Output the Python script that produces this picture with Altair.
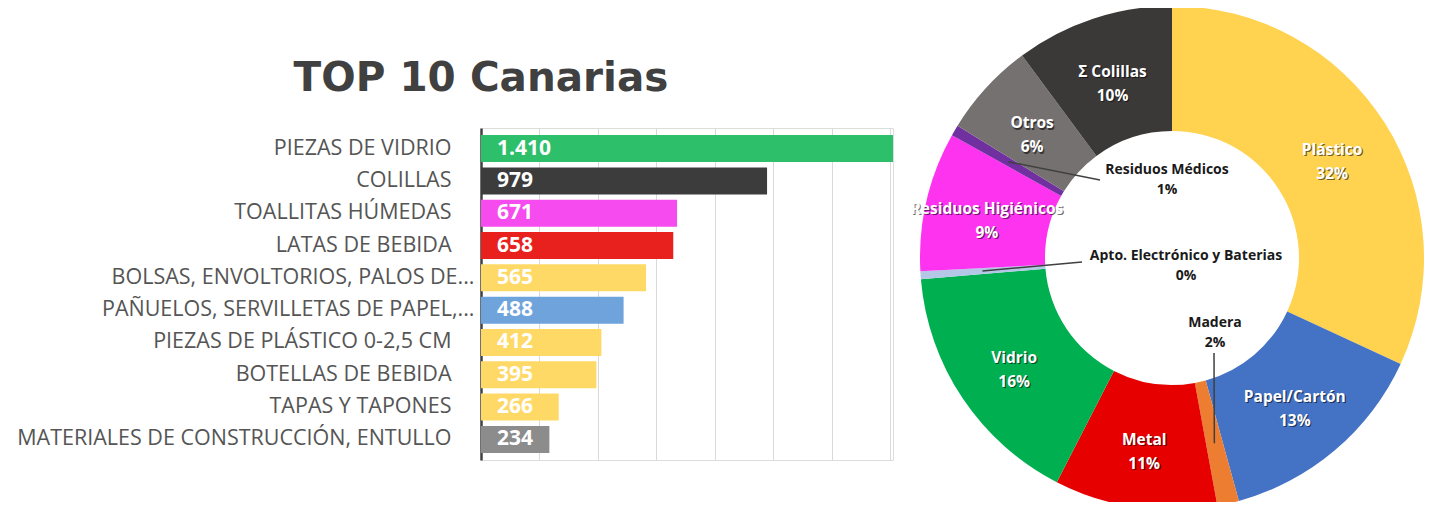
import math
import altair as alt
import pandas as pd

# ---------------- data ----------------
categories = [
    "PIEZAS DE VIDRIO", "COLILLAS", "TOALLITAS HÚMEDAS", "LATAS DE BEBIDA",
    "BOLSAS, ENVOLTORIOS, PALOS DE...", "PAÑUELOS, SERVILLETAS DE PAPEL,...",
    "PIEZAS DE PLÁSTICO 0-2,5 CM", "BOTELLAS DE BEBIDA", "TAPAS Y TAPONES",
    "MATERIALES DE CONSTRUCCIÓN, ENTULLO",
]
counts = [1410, 979, 671, 658, 565, 488, 412, 395, 266, 234]
bar_colors = ["#2EBF6B", "#3C3C3C", "#F54BEF", "#E8211E", "#FFD966",
              "#6FA3DC", "#FFD966", "#FFD966", "#FFD966", "#8C8C8C"]

materials = ["Plástico", "Papel/Cartón", "Madera", "Metal", "Vidrio",
             "Apto. Electrónico y Baterias", "Residuos Higiénicos",
             "Residuos Médicos", "Otros", "Σ Colillas"]
shares = [32.1, 13.9, 1.4, 10.5, 16.2, 0.5, 9.0, 0.7, 6.1, 10.2]
pct_labels = ["32%", "13%", "2%", "11%", "16%", "0%", "9%", "1%", "6%", "10%"]
donut_colors = ["#FFD24F", "#4472C4", "#ED7D31", "#E60000", "#00B050",
                "#B4C7E7", "#FD33F0", "#7030A0", "#767171", "#3B3838"]
callouts = ["Madera", "Apto. Electrónico y Baterias", "Residuos Médicos"]

title_text = "TOP 10 Canarias"

# ---------------- layout constants ----------------
PLOT_W, PLOT_H = 412, 332
CX, CY = 691, 130          # donut centre relative to bar plot origin
R_OUT, R_IN, R_LAB = 252, 127, 190
FONT = "Open Sans"
# annotation placement (offsets from donut centre; y = first text line)
callout_text_off = {"Residuos Médicos": (-5, -88),
                    "Apto. Electrónico y Baterias": (14, -2),
                    "Madera": (43, 65)}
callout_line_end = {"Residuos Médicos": (-72, -78),
                    "Apto. Electrónico y Baterias": (-90, 4),
                    "Madera": (42, 95)}

# ---------------- tables ----------------
bars_df = pd.DataFrame({"cat": categories, "n": counts, "color": bar_colors})
donut_df = pd.DataFrame({
    "idx": list(range(len(materials))),
    "mat": materials, "share": shares, "color": donut_colors,
    "inlabel": [("" if m in callouts else f"{m}\n{p}") for m, p in zip(materials, pct_labels)],
})

# ---------------- bar chart ----------------
ybase = alt.Y("cat:N", sort=categories,
              scale=alt.Scale(paddingInner=0.164, paddingOuter=0.22),
              axis=alt.Axis(title=None, labelFont=FONT, labelFontSize=21.5,
                            labelColor="#555555", ticks=False, domainColor="#404040",
                            domainWidth=2.5, labelLimit=700,
                            labelPadding={"condition": {"test": "indexof(datum.value, '...') >= 0", "value": 7}, "value": 30}))

bars = alt.Chart(bars_df).mark_bar().encode(
    x=alt.X("n:Q", scale=alt.Scale(domain=[0, 1410], nice=False),
            axis=alt.Axis(title=None, labels=False, ticks=False, domain=False,
                          grid=True, gridColor="#D9D9D9", gridWidth=1,
                          values=[200, 400, 600, 800, 1000, 1200, 1400])),
    y=ybase,
    color=alt.Color("color:N", scale=None),
)

bar_text = alt.Chart(bars_df).transform_calculate(
    lab="replace(format(datum.n, ','), ',', '.')"
).mark_text(align="left", baseline="middle", font=FONT, fontSize=21,
            fontWeight="bold", color="white").encode(
    x=alt.value(16),
    y=alt.Y("cat:N", sort=categories),
    text="lab:N",
)

title = alt.Chart(pd.DataFrame({"t": [title_text]})).mark_text(
    font="DejaVu Sans", fontSize=40.5, fontWeight="bold", color="#404040",
    align="center", baseline="alphabetic").encode(
    x=alt.value(0), y=alt.value(-37), text="t:N")

# ---------------- donut ----------------
theta = alt.Theta("share:Q", stack=True)
arcs = alt.Chart(donut_df).mark_arc(innerRadius=R_IN, outerRadius=R_OUT).encode(
    theta=theta,
    order=alt.Order("idx:Q"),
    color=alt.Color("color:N", scale=None),
    x=alt.value(CX), y=alt.value(CY),
)

shadow = alt.Chart(donut_df).mark_text(
    radius=R_LAB, font=FONT, fontSize=15.5, fontWeight="bold", color="#000000",
    opacity=0.55, lineBreak="\n", lineHeight=24, dx=1.2, dy=-4.8).encode(
    theta=theta, order=alt.Order("idx:Q"), text="inlabel:N",
    x=alt.value(CX), y=alt.value(CY),
)
labels = alt.Chart(donut_df).mark_text(
    radius=R_LAB, font=FONT, fontSize=15.5, fontWeight="bold", color="#FFFFFF",
    lineBreak="\n", lineHeight=24, dy=-6).encode(
    theta=theta, order=alt.Order("idx:Q"), text="inlabel:N",
    x=alt.value(CX), y=alt.value(CY),
)

layers = [bars, bar_text, title, arcs, shadow, labels]

total = sum(shares)
cum = 0.0
for m, s, p in zip(materials, shares, pct_labels):
    mid = 2 * math.pi * (cum + s / 2) / total
    cum += s
    if m not in callouts:
        continue
    x1 = CX + R_LAB * math.sin(mid)
    y1 = CY - R_LAB * math.cos(mid)
    ex, ey = callout_line_end[m]
    layers.append(alt.Chart(pd.DataFrame({"k": [0]})).mark_rule(
        color="#404040", strokeWidth=1.5).encode(
        x=alt.value(x1), y=alt.value(y1),
        x2=alt.value(CX + ex), y2=alt.value(CY + ey)))
    tx, ty = callout_text_off[m]
    layers.append(alt.Chart(pd.DataFrame({"t": [f"{m}\n{p}"]})).mark_text(
        font=FONT, fontSize=14, fontWeight="bold", color="#1A1A1A",
        lineBreak="\n", lineHeight=20, baseline="middle").encode(
        x=alt.value(CX + tx), y=alt.value(CY + ty), text="t:N"))

chart = alt.layer(*layers).resolve_scale(color="independent").properties(
    width=PLOT_W, height=PLOT_H,
    autosize=alt.AutoSizeParams(type="none"),
    padding={"left": 473, "top": 120, "right": 533, "bottom": 42},
).configure_view(stroke=None).configure(background="white")

chart.save("out.html", embed_options={"renderer": "svg", "actions": False})
